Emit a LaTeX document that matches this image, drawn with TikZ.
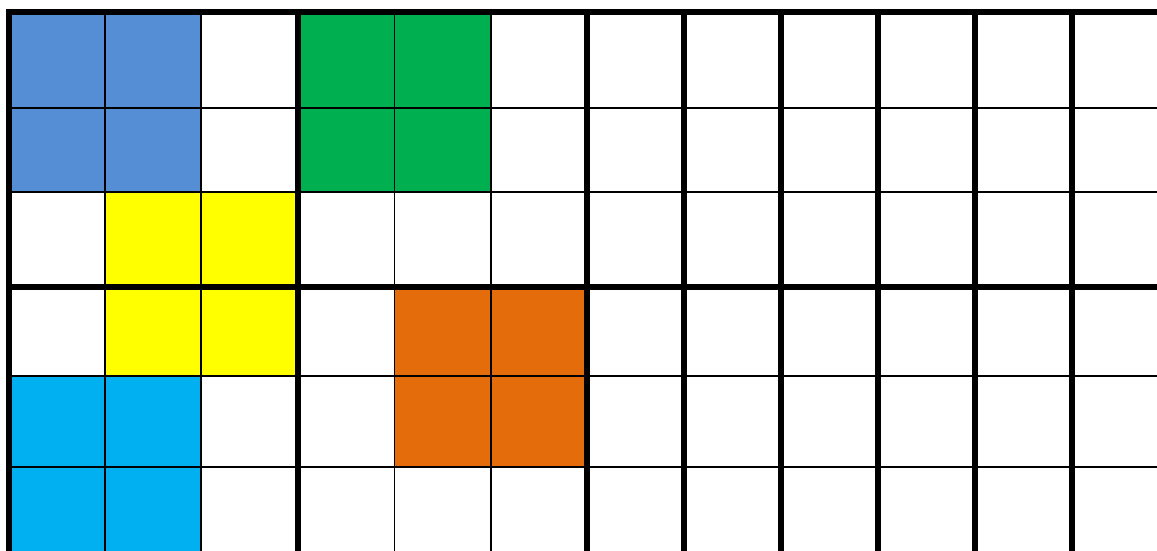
\documentclass[tikz,border=0pt]{standalone}
\definecolor{cblue}{RGB}{85,142,213}
\definecolor{cgreen}{RGB}{0,176,80}
\definecolor{cyellow}{RGB}{255,255,0}
\definecolor{corange}{RGB}{228,108,10}
\definecolor{ccyan}{RGB}{0,176,240}
\tikzset{
  thinline/.style={line width=1.6pt, black},
  thickline/.style={line width=6pt, black},
}
\begin{document}
\begin{tikzpicture}[x=1pt,y=-1pt]
\useasboundingbox (0,0) rectangle (1157,550);
\begin{scope}
\clip (0,0) rectangle (1157,550);
% colored cells
\fill[cblue]   (9,12) rectangle (201,192);
\fill[cgreen]  (298,12) rectangle (491,192);
\fill[cyellow] (105,192) rectangle (298,376);
\fill[corange] (394.5,287) rectangle (587,467);
\fill[ccyan]   (9,376) rectangle (201,560);
% thin horizontal lines
\foreach \y in {108,192,376,467} \draw[thinline] (9,\y) -- (1160,\y);
% thin vertical lines
\draw[thinline] (105,12) -- (105,560);
\draw[thinline] (201,12) -- (201,560);
\draw[thinline,line width=1.3pt] (394.5,12) -- (394.5,560);
\draw[thinline,line width=1.3pt] (491,12) -- (491,560);
% thick vertical lines
\foreach \x in {9,298,587,684,781,878,975,1072} \draw[thickline] (\x,9) -- (\x,560);
% thick horizontal lines
\draw[thickline] (6,12) -- (1160,12);
\draw[thickline] (6,287) -- (1160,287);
\end{scope}
\end{tikzpicture}
\end{document}
